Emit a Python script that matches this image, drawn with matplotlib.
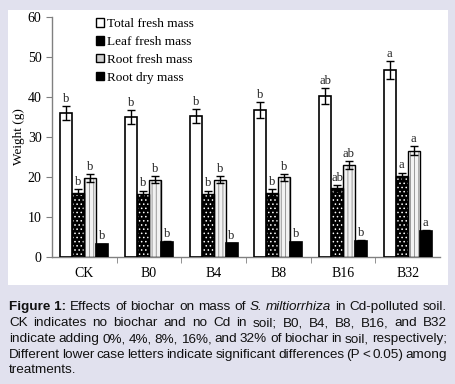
import matplotlib
matplotlib.use("Agg")
import matplotlib.pyplot as plt
import numpy as np
from matplotlib.patches import Rectangle, Patch

groups = ["CK", "B0", "B4", "B8", "B16", "B32"]
series = ["Total fresh mass", "Leaf fresh mass", "Root fresh mass", "Root dry mass"]
total = [36.0, 35.0, 35.3, 36.7, 40.2, 46.7]
total_err = [1.7, 1.7, 1.7, 2.0, 2.0, 2.3]
leaf = [16.1, 15.8, 15.7, 16.1, 17.2, 20.2]
leaf_err = [0.8, 0.8, 0.9, 0.9, 0.8, 0.9]
rootf = [19.7, 19.3, 19.3, 19.9, 23.0, 26.6]
rootf_err = [1.0, 0.9, 0.9, 0.9, 1.0, 1.1]
rootd = [3.2, 3.8, 3.4, 3.7, 4.1, 6.5]
rootd_err = [0.15, 0.15, 0.15, 0.15, 0.15, 0.25]
letters_total = ["b", "b", "b", "b", "ab", "a"]
letters_leaf = ["b", "b", "b", "b", "ab", "a"]
letters_rootf = ["b", "b", "b", "b", "ab", "a"]
letters_rootd = ["b", "b", "b", "b", "b", "a"]

BG = "#e1e1ee"
W, H = 456, 384
plt.rcParams["hatch.linewidth"] = 0.6
fig = plt.figure(figsize=(W / 100, H / 100), dpi=100, facecolor=BG)
fig.patches.append(Rectangle((8 / W, 1 - 285 / H), 440 / W, 275 / H,
                             transform=fig.transFigure, facecolor="white",
                             edgecolor="none", zorder=-10))

ax = fig.add_axes([52 / W, 1 - 257 / H, 388 / W, 240 / H])
ax.set_zorder(5)
ax.set_facecolor("none")
serif = "Liberation Serif"

x = np.arange(len(groups))
bw = 0.185
offs = np.array([-1.5, -0.5, 0.5, 1.5]) * bw
vals = [total, leaf, rootf, rootd]
errs = [total_err, leaf_err, rootf_err, rootd_err]
lets = [letters_total, letters_leaf, letters_rootf, letters_rootd]
faces = ["white", "black", "#f2f2f2", "black"]
hatches = [None, "....", "||||", None]
hcols = [None, "white", "#8a8a8a", None]

for i in range(4):
    xs = x + offs[i]
    if hatches[i]:
        ax.bar(xs, vals[i], bw, color=faces[i], edgecolor=hcols[i],
               hatch=hatches[i], linewidth=0, zorder=2)
        ax.bar(xs, vals[i], bw, color="none", edgecolor="black",
               linewidth=1.0, zorder=3)
    else:
        ax.bar(xs, vals[i], bw, color=faces[i], edgecolor="black",
               linewidth=1.2, zorder=3)
    ax.errorbar(xs, vals[i], yerr=errs[i], fmt="none", ecolor="black",
                elinewidth=1.0, capsize=3, capthick=1.0, zorder=4)
    for xx, v, e, l in zip(xs, vals[i], errs[i], lets[i]):
        ax.text(xx, v + e + 0.3, l, ha="center", va="bottom",
                fontsize=9, family=serif, color="#222222", zorder=5)

ax.set_xlim(-0.5, len(groups) - 0.5)
ax.set_ylim(0, 60)
ax.set_yticks(range(0, 61, 10))
ax.set_xticks(x)
ax.set_xticklabels(groups, family=serif, fontsize=10)
ax.set_xticks(np.arange(0.5, len(groups) - 0.5, 1), minor=True)
ax.tick_params(axis="x", which="major", length=0, pad=7)
ax.tick_params(axis="x", which="minor", length=4, color="#808080", direction="out")
ax.tick_params(axis="y", length=4, color="#808080", direction="out", labelsize=10)
for lab in ax.get_yticklabels():
    lab.set_family(serif)
for s in ["top", "right"]:
    ax.spines[s].set_visible(False)
for s in ["left", "bottom"]:
    ax.spines[s].set_color("#808080")
    ax.spines[s].set_linewidth(1.0)
ax.set_ylabel("Weight (g)", family=serif, fontsize=9.5, labelpad=2)

handles = [
    Patch(facecolor="white", edgecolor="black", linewidth=1.0),
    Patch(facecolor="black", edgecolor="black", linewidth=1.0),
    Patch(facecolor="#d0d0d0", edgecolor="black", linewidth=1.0),
    Patch(facecolor="black", edgecolor="black", linewidth=1.0),
]
leg = ax.legend(handles, series, loc="upper left", bbox_to_anchor=(0.082, 1.045),
                frameon=False, prop={"family": serif, "size": 9.5},
                handlelength=0.6, handleheight=0.6, handletextpad=0.25,
                labelspacing=0.45)

# caption, justified
sans = "Liberation Sans"
lines = [
    [("Figure 1:", "bold", "normal"), ("Effects", "normal", "normal"), ("of", "normal", "normal"),
     ("biochar", "normal", "normal"), ("on", "normal", "normal"), ("mass", "normal", "normal"),
     ("of", "normal", "normal"), ("S.", "normal", "italic"), ("miltiorrhiza", "normal", "italic"),
     ("in", "normal", "normal"), ("Cd-polluted", "normal", "normal"), ("soil.", "normal", "normal")],
    "CK indicates no biochar and no Cd in soil; B0, B4, B8, B16, and B32",
    "indicate adding 0%, 4%, 8%, 16%, and 32% of biochar in soil, respectively;",
    "Different lower case letters indicate significant differences (P < 0.05) among",
    "treatments.",
]
ys = [307, 323, 339, 355, 370]
fig.canvas.draw()
r = fig.canvas.get_renderer()
x0, x1 = 9, 447
for li, (ln, yy) in enumerate(zip(lines, ys)):
    if isinstance(ln, str):
        words = [(w, "normal", "normal") for w in ln.split(" ")]
    else:
        words = ln
    texts = []
    for w, wt, st in words:
        t = fig.text(0, 1 - yy / H, w, fontsize=9.7, family=sans, weight=wt,
                     style=st, va="center", ha="left", color="#111111")
        texts.append(t)
    widths = [t.get_window_extent(r).width for t in texts]
    total_w = sum(widths)
    if li < len(lines) - 1 and len(texts) > 1:
        gap = (x1 - x0 - total_w) / (len(texts) - 1)
    else:
        gap = 2.7
    cx = x0
    for t, w in zip(texts, widths):
        t.set_x(cx / W)
        cx += w + gap

fig.savefig("out.png", dpi=100, facecolor=BG)
